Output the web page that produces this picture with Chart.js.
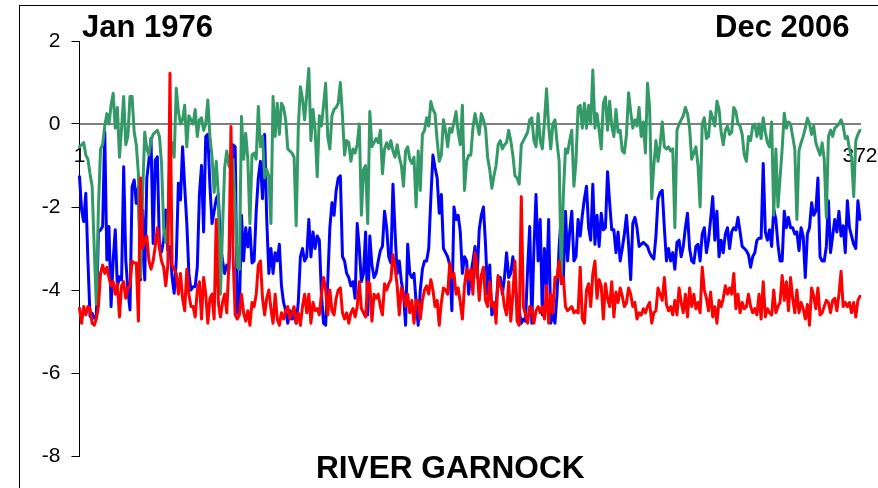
<!DOCTYPE html>
<html>
<head>
<meta charset="utf-8">
<script src="https://cdn.jsdelivr.net/npm/chart.js@4.4.0/dist/chart.umd.min.js"></script>
<style>
html,body{margin:0;padding:0;background:#fff;}
#wrap{position:relative;width:878px;height:488px;overflow:hidden;background:#fff;}
#frame{position:absolute;left:19px;top:5px;width:900px;height:520px;border-left:1px solid #000;border-top:1px solid #000;}
canvas{position:absolute;left:0;top:0;}
.t{position:absolute;font-family:"Liberation Sans",Arial,sans-serif;font-weight:bold;font-size:31px;line-height:31px;color:#000;white-space:nowrap;}
</style>
</head>
<body>
<div id="wrap">
<div id="frame"></div>
<canvas id="c" width="878" height="488"></canvas>
<div class="t" style="left:82px;top:11px">Jan 1976</div>
<div class="t" style="left:715px;top:11px">Dec 2006</div>
<div class="t" style="left:316px;top:452px;font-size:31.6px">RIVER GARNOCK</div>
</div>
<script>
// month index 1..372 (Jan 1976 - Dec 2006)
const categories = Array.from({length: 372}, (_, i) => String(i + 1));
const xTickLabels = ['1', '372'];
const yTickValues = [2, 0, -2, -4, -6, -8];

const blueSeries = [
-1.27,-2.07,-2.35,-1.67,-3.28,-4.64,-4.56,-4.68,-4.64,-2.6,
-2.55,-2.47,-0.18,-3.28,-2.47,-4.4,-3.28,-2.55,-3.92,-3.68,
-3.76,-1.03,-3.28,-4.0,-4.48,-1.51,-1.35,-1.91,-1.51,-3.76,
-2.07,-3.76,-1.31,-0.87,-0.35,-2.88,-0.87,-0.79,-2.96,-3.08,
-2.8,-2.07,-3.04,-2.96,-3.68,-4.08,-3.28,-1.43,-1.83,-0.55,
-1.51,-2.39,-3.6,-4.0,-3.92,-3.92,-3.44,-1.7,-1.0,-2.6,
-0.3,-0.25,-1.5,-2.4,-2.1,-1.8,-1.7,-2.9,-3.3,-3.6,
-3.4,-3.5,-2.0,-0.5,-0.55,-4.56,-4.5,-2.2,-3.3,-2.5,
-2.96,-2.5,-3.35,-3.3,-2.1,-1.3,-0.9,-1.8,-0.25,-2.3,
-3.6,-3.0,-3.6,-3.1,-3.3,-2.9,-3.9,-4.3,-4.5,-4.8,
-4.5,-4.7,-4.6,-4.8,-4.3,-3.2,-3.0,-3.3,-3.2,-2.3,
-3.2,-2.6,-3.0,-2.7,-2.8,-4.1,-4.8,-4.85,-3.8,-2.5,
-1.9,-2.2,-1.6,-1.3,-1.25,-3.2,-3.3,-3.6,-3.7,-3.9,
-3.8,-4.2,-2.4,-3.0,-3.8,-3.6,-2.6,-4.6,-2.7,-3.4,
-3.7,-3.6,-3.3,-3.05,-2.95,-2.1,-2.5,-3.2,-3.35,-1.45,
-2.6,-3.6,-3.3,-3.8,-4.1,-4.85,-2.9,-3.6,-3.7,-3.6,
-4.3,-4.85,-4.0,-3.5,-3.3,-3.3,-3.0,-1.8,-0.75,-1.05,
-1.3,-2.15,-1.7,-3.0,-3.1,-3.2,-3.4,-4.5,-2.0,-2.3,
-2.2,-2.6,-3.6,-3.2,-3.3,-4.1,-3.6,-3.3,-2.95,-3.7,
-2.55,-2.2,-2.0,-2.9,-4.1,-3.4,-4.6,-4.5,-4.4,-3.7,
-3.7,-4.1,-3.7,-3.1,-3.7,-3.6,-3.2,-3.7,-4.4,-4.5,
-4.8,-4.7,-4.75,-3.5,-2.47,-4.8,-3.0,-1.7,-3.3,-2.3,
-4.6,-3.0,-3.9,-2.3,-4.8,-4.6,-4.8,-4.1,-2.95,-2.2,
-3.7,-2.1,-3.3,-2.6,-2.1,-3.3,-3.2,-2.3,-2.7,-2.2,
-1.8,-1.5,-2.5,-2.8,-1.45,-2.9,-2.2,-2.95,-2.15,-2.55,
-2.5,-1.15,-1.9,-2.55,-2.55,-3.1,-2.6,-3.3,-3.0,-2.65,
-2.2,-2.9,-3.75,-2.4,-2.25,-2.5,-2.95,-2.9,-2.85,-2.9,
-2.95,-3.1,-3.2,-3.25,-2.7,-1.8,-1.65,-1.6,-2.5,-3.3,
-3.0,-3.3,-3.1,-3.5,-2.85,-2.8,-3.2,-2.95,-2.5,-2.15,
-3.0,-3.3,-3.35,-2.95,-2.9,-3.3,-2.65,-2.5,-3.1,-2.8,
-2.3,-1.75,-2.8,-2.1,-3.2,-2.8,-3.1,-2.65,-2.5,-3.0,
-2.6,-2.5,-2.55,-2.25,-2.6,-2.95,-3.0,-3.05,-3.15,-3.45,
-3.2,-3.1,-2.8,-2.75,-2.75,-0.95,-2.6,-2.8,-2.55,-2.95,
-2.05,-2.3,-2.9,-3.3,-3.3,-2.1,-2.5,-2.25,-2.5,-2.5,
-2.65,-2.6,-3.05,-2.5,-2.7,-3.7,-2.65,-2.5,-1.9,-2.2,
-2.1,-1.3,-3.2,-3.3,-3.3,-2.95,-1.85,-3.1,-2.7,-2.3,
-2.6,-2.1,-2.7,-2.45,-3.1,-1.85,-2.5,-2.7,-2.9,-3.0,
-1.85,-2.3
];

const redSeries = [
-4.44,-4.8,-4.4,-4.6,-4.4,-4.45,-4.8,-4.85,-4.7,-4.4,
-3.6,-3.4,-3.6,-3.45,-3.7,-3.9,-3.8,-4.1,-3.85,-4.65,
-3.9,-3.8,-4.2,-3.95,-3.9,-3.3,-3.35,-3.35,-4.75,-1.3,
-3.0,-2.8,-2.7,-3.3,-3.5,-3.3,-2.95,-2.5,-3.0,-3.3,
-3.45,-3.9,-3.4,1.22,-3.4,-3.5,-3.6,-4.1,-3.6,-4.2,
-4.5,-3.5,-4.1,-4.4,-4.4,-4.65,-4.0,-3.8,-4.7,-3.7,
-4.1,-4.8,-4.2,-4.1,-4.7,-2.3,-4.3,-4.65,-4.3,-4.1,
-4.55,-3.4,-0.06,-3.2,-4.6,-4.7,-4.6,-4.1,-4.55,-4.75,
-4.5,-4.85,-4.3,-4.4,-4.1,-3.4,-3.3,-4.2,-4.6,-4.2,
-4.0,-4.45,-4.8,-4.1,-4.7,-4.85,-4.55,-4.7,-4.5,-4.4,
-4.7,-4.55,-4.4,-4.8,-4.55,-4.85,-4.4,-4.1,-4.55,-4.1,
-4.8,-4.3,-4.5,-4.45,-4.6,-4.1,-3.7,-4.0,-4.6,-4.0,
-4.5,-4.6,-4.2,-4.0,-3.95,-4.55,-4.7,-4.55,-4.8,-4.55,
-4.45,-4.65,-4.4,-3.8,-4.45,-4.55,-4.65,-3.8,-3.85,-4.75,
-4.1,-4.2,-4.1,-4.4,-4.6,-3.85,-4.0,-3.85,-3.75,-3.15,
-3.45,-3.9,-4.6,-3.95,-4.1,-4.4,-4.1,-4.55,-4.25,-4.8,
-4.25,-4.25,-4.7,-4.25,-4.0,-3.9,-4.1,-3.75,-4.0,-4.4,
-4.25,-4.85,-4.3,-3.95,-4.0,-4.1,-3.35,-3.7,-3.6,-4.1,
-3.95,-4.3,-4.7,-3.9,-3.5,-3.75,-3.5,-4.1,-3.1,-3.45,
-4.25,-3.65,-3.45,-4.25,-4.4,-3.8,-4.4,-4.3,-4.8,-3.65,
-3.9,-4.0,-4.4,-4.6,-3.8,-4.75,-4.1,-3.3,-4.75,-4.85,
-1.75,-4.4,-4.6,-4.8,-4.4,-4.45,-4.8,-4.5,-4.4,-4.55,
-4.4,-4.7,-3.9,-4.8,-4.1,-4.55,-3.7,-3.7,-3.3,-3.85,
-3.7,-4.4,-4.5,-4.45,-4.4,-4.55,-4.5,-4.55,-3.45,-4.7,
-4.8,-4.0,-3.85,-4.4,-3.6,-3.3,-4.2,-3.75,-3.9,-4.7,
-3.85,-4.2,-4.4,-3.8,-4.65,-4.05,-4.3,-3.95,-4.15,-4.4,
-4.3,-3.95,-4.1,-4.4,-4.3,-4.7,-4.55,-4.6,-4.45,-4.55,
-4.4,-4.3,-4.8,-4.55,-4.5,-3.95,-4.1,-4.25,-3.7,-4.35,
-4.5,-4.4,-4.6,-4.25,-4.6,-3.95,-4.3,-4.55,-4.1,-4.65,
-3.95,-4.4,-4.1,-4.45,-4.3,-4.55,-3.45,-4.0,-4.2,-4.5,
-4.05,-4.65,-4.4,-4.8,-4.25,-4.4,-4.2,-3.9,-4.1,-3.95,
-4.1,-3.6,-4.45,-4.1,-4.55,-4.3,-4.45,-4.4,-4.1,-4.4,
-4.55,-4.45,-4.6,-4.1,-4.7,-3.8,-4.65,-4.45,-4.55,-4.6,
-4.0,-4.55,-4.4,-4.3,-3.65,-4.25,-3.8,-4.5,-3.7,-4.2,
-4.55,-4.0,-4.55,-4.3,-4.45,-4.7,-4.35,-4.85,-3.95,-4.15,
-4.45,-3.95,-4.6,-4.55,-4.4,-4.25,-4.3,-4.55,-4.25,-4.2,
-4.5,-4.1,-3.55,-4.4,-4.3,-4.4,-4.3,-4.55,-4.3,-4.65,
-4.25,-4.15
];

const greenSeries = [
-0.55,-0.5,-0.45,-0.75,-0.85,-1.2,-1.5,-3.0,-4.35,-2.0,
-0.6,-0.5,-0.05,0.25,0.0,0.45,0.74,-0.1,0.4,-0.8,
-0.1,0.66,-0.5,-0.3,0.66,0.66,-0.2,-0.5,-1.2,-3.7,
-1.7,-0.2,-0.6,-0.75,-0.4,-0.25,-0.2,-0.15,-0.3,-0.95,
-2.5,-2.85,-2.4,-0.75,-0.45,-0.8,0.86,0.3,0.0,0.1,
0.45,-0.55,0.2,0.1,0.0,0.35,-0.3,0.1,0.15,-0.15,
0.0,0.58,-0.3,-0.8,-1.65,-0.9,-1.7,-4.1,-2.5,-1.05,
-0.65,-1.0,-1.1,-0.85,-2.0,-3.45,-3.5,0.18,-0.85,-0.22,
-0.85,-2.4,-0.75,-0.7,-0.85,0.42,-0.55,-0.3,-1.3,-1.1,
-1.25,-2.4,0.66,-0.3,0.5,-0.25,0.5,0.4,0.1,-0.6,
-0.65,-0.7,-0.8,-2.45,-0.1,0.9,0.6,0.1,0.7,1.34,
-0.4,0.35,-0.15,-1.27,0.2,-0.05,0.45,0.98,-0.3,-0.6,
0.2,0.35,0.4,0.5,1.0,0.2,-0.75,-0.4,-0.45,-0.9,
-0.6,-0.7,-0.5,0.0,-2.2,-1.1,-1.0,-2.4,0.3,-0.55,
-0.45,-0.35,-0.45,-0.15,-1.2,-0.6,-0.45,-0.6,-0.4,-0.65,
-0.8,-0.5,-0.8,-1.0,-1.5,-0.65,-0.55,-0.85,-0.95,-0.8,
-2.0,-0.65,-1.6,-0.25,-0.15,0.15,-0.05,0.54,0.35,0.25,
-0.4,-0.9,-0.75,0.1,-0.15,-0.55,-0.1,-0.2,0.05,0.3,
-0.2,-0.5,0.45,-1.6,-0.9,-0.75,-0.75,-0.1,0.25,0.0,
-0.25,0.25,0.1,-0.1,-0.8,-1.1,-1.55,-1.25,-1.0,-0.5,
-0.4,-0.6,-0.5,-0.45,-0.15,-0.4,-0.75,-1.25,-1.3,-1.45,
-0.5,-0.4,-0.3,-0.2,0.1,0.15,-0.4,-0.55,0.25,-0.4,
-0.6,0.05,0.85,-0.05,-0.6,0.0,0.1,-0.45,-0.9,-3.7,
-1.7,-0.6,-0.7,-0.4,-0.15,-1.5,-0.9,0.4,0.45,-0.1,
0.5,-0.1,0.45,0.0,1.3,-0.1,0.25,-0.15,-0.6,0.5,
0.65,-0.15,0.55,-0.05,-0.3,0.35,-0.2,-0.15,-0.65,-0.7,
-0.25,0.75,0.3,-0.1,0.1,-0.05,0.4,-0.3,0.05,-0.7,
0.98,0.4,-1.8,-1.0,-0.4,-0.9,-0.5,0.05,-0.55,-0.6,
-0.55,-0.65,-0.6,-2.5,-0.15,0.0,0.1,0.2,0.4,0.25,
-0.1,-0.85,-0.7,-0.55,-1.0,-2.0,0.0,0.15,-0.35,-0.3,
0.3,0.15,-0.05,0.55,0.35,-0.2,-0.5,-0.15,-0.05,-0.25,
-0.2,0.4,0.3,0.0,-0.05,-0.25,-0.75,-0.9,-0.3,-0.4,
-0.05,0.0,-0.3,0.0,-0.35,0.15,-0.2,-0.45,-0.55,0.05,
-2.2,-0.6,-2.0,-1.3,-0.6,0.26,-0.1,0.05,0.0,-0.3,
-0.6,-2.3,-0.65,-0.45,-0.3,-0.1,0.14,0.0,-0.25,-0.05,
-0.45,-0.6,-0.75,-0.45,-0.85,-2.25,-0.3,-0.15,-0.3,-0.1,
-0.05,0.0,0.1,-0.05,-0.35,-0.3,-0.6,-0.8,-1.75,-0.4,
-0.25,-0.15
];

const FONT = '"Liberation Sans", Arial, sans-serif';
Chart.defaults.font.family = FONT;

const lineStyle = {borderWidth: 3, pointRadius: 0, tension: 0, borderJoinStyle: 'round', borderCapStyle: 'round', fill: false};

new Chart(document.getElementById('c'), {
  type: 'line',
  data: {
    labels: categories,
    datasets: [
      Object.assign({label: 'red', data: redSeries, borderColor: '#FF0000', order: 0}, lineStyle),
      Object.assign({label: 'green', data: greenSeries, borderColor: '#339966', order: 1}, lineStyle),
      Object.assign({label: 'blue', data: blueSeries, borderColor: '#0000FF', order: 2}, lineStyle)
    ]
  },
  options: {
    responsive: false,
    animation: false,
    devicePixelRatio: 1,
    layout: {padding: {left: 0, top: 41, right: 18, bottom: 32}},
    plugins: {legend: {display: false}, tooltip: {enabled: false}, title: {display: false}},
    scales: {
      x: {
        type: 'category',
        position: {y: 0},
        offset: false,
        grid: {display: false, drawTicks: false},
        border: {display: true, color: '#808080', width: 2},
        ticks: {
          autoSkip: false, maxRotation: 0, minRotation: 0, padding: 20,
          color: '#000', font: {family: FONT, size: 21},
          callback: (v, i) => (i === 0 ? xTickLabels[0] : (i === categories.length - 1 ? xTickLabels[1] : ''))
        },
        afterFit: (s) => { s.height = 0; s.paddingLeft = 0; s.paddingRight = 0; }
      },
      y: {
        min: -8, max: 2,
        position: 'left',
        grid: {drawOnChartArea: false, drawTicks: true, tickLength: 8, color: '#000', lineWidth: 1},
        border: {display: true, color: '#000', width: 1},
        ticks: {
          stepSize: 2, padding: 11, color: '#000', font: {family: FONT, size: 21},
          callback: (v) => (yTickValues.includes(v) ? String(v) : '')
        },
        afterFit: (s) => { s.width = 79.5; }
      }
    }
  }
});
</script>
</body>
</html>
